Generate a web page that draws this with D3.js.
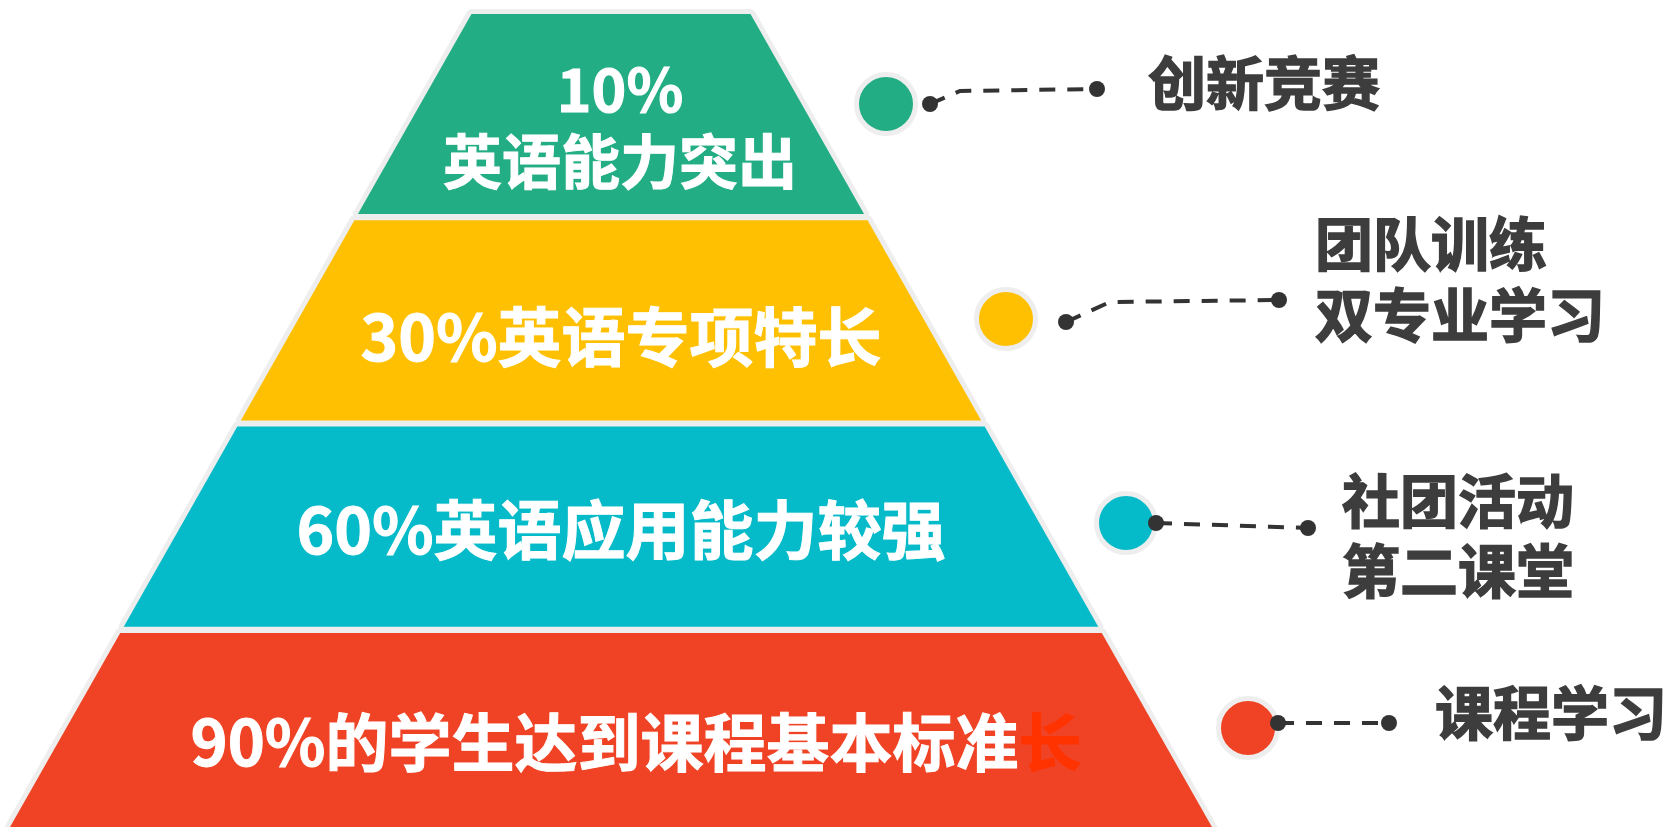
<!DOCTYPE html>
<html>
<head>
<meta charset="utf-8">
<script src="https://cdn.jsdelivr.net/npm/d3@7"></script>
<style>
  html, body { margin: 0; padding: 0; background: #ffffff; }
  svg { display: block; }
  text { font-family: "Noto Sans CJK SC", "Noto Sans", sans-serif; font-weight: 700; }
</style>
</head>
<body>
<div id="chart"></div>
<script>
// ---- data ----
const tierPercents = [10, 30, 60, 90];
const tierLabels = [
  ["10%", "英语能力突出"],
  ["30%英语专项特长"],
  ["60%英语应用能力较强"],
  ["90%的学生达到课程基本标准"]
];
const tierExtra = ["", "", "", "长"];
const tierColors = ["#22AD84", "#FEC000", "#05BAC9", "#F04325"];
const sideLabels = [
  ["创新竞赛"],
  ["团队训练", "双专业学习"],
  ["社团活动", "第二课堂"],
  ["课程学习"]
];

// ---- layout ----
const W = 1667, H = 827;
const svg = d3.select("#chart").append("svg").attr("width", W).attr("height", H);

const y = d3.scaleBand().domain(d3.range(tierPercents.length)).range([14, 833]).paddingInner(0.03).paddingOuter(0);
const halfW = d3.scaleLinear().domain([14, 628]).range([139.5, 488]);
const cx = 611;

const tiers = tierPercents.map((p, i) => ({ p, i, label: tierLabels[i], extra: tierExtra[i], color: tierColors[i], side: sideLabels[i] }));

// trapezoids
svg.append("g").selectAll("path").data(tiers).join("path")
  .attr("d", d => {
    const t = y(d.i), b = y(d.i) + y.bandwidth();
    const ht = halfW(t), hb = halfW(b);
    return d3.line()([[cx - ht, t], [cx + ht, t], [cx + hb, b], [cx - hb, b]]) + "Z";
  })
  .attr("fill", d => d.color)
  .attr("stroke", "#eeeeee")
  .attr("stroke-width", 10)
  .attr("stroke-linejoin", "round")
  .style("paint-order", "stroke");

// tier labels
const labelLayout = [
  { x: 620, ys: [86, 158], size: [59, 59] },
  { x: 621, ys: [333], size: [64] },
  { x: 621, ys: [526], size: [64] },
  { x: 636, ys: [738], size: [63] }
];
const lg = svg.append("g");
tiers.forEach((d, i) => {
  const L = labelLayout[i];
  d.label.forEach((line, j) => {
    const t = lg.append("text")
      .attr("x", L.x).attr("y", L.ys[j])
      .attr("text-anchor", "middle")
      .attr("dominant-baseline", "central")
      .attr("font-size", L.size[j])
      .attr("fill", "#ffffff")
      .attr("stroke", "#ffffff").attr("stroke-width", 1);
    t.append("tspan").text(line);
    if (j === d.label.length - 1 && d.extra) {
      t.append("tspan").attr("fill", "#FF3300").attr("stroke", "#FF3300").text(d.extra);
    }
  });
});

// circles + connectors
const sideLayout = [
  { c: [886, 104], path: [[930, 104], [960, 91], [1097, 89]], textX: 1148, ys: [80] },
  { c: [1006, 319], path: [[1066, 322], [1110, 302], [1279, 300]], textX: 1315, ys: [241, 312] },
  { c: [1126, 523], path: [[1156, 523], [1308, 528]], textX: 1342, ys: [498, 568] },
  { c: [1248, 728], path: [[1278, 723], [1389, 723]], textX: 1435, ys: [710] }
];
const sg = svg.append("g");
tiers.forEach((d, i) => {
  const S = sideLayout[i];
  sg.append("circle").attr("cx", S.c[0]).attr("cy", S.c[1]).attr("r", 29.5)
    .attr("fill", d.color).attr("stroke", "#eeeeee").attr("stroke-width", 5);
  sg.append("path").attr("d", d3.line()(S.path))
    .attr("fill", "none").attr("stroke", "#333333").attr("stroke-width", 4)
    .attr("stroke-dasharray", "16,12");
  const first = S.path[0], last = S.path[S.path.length - 1];
  [first, last].forEach(p => {
    sg.append("circle").attr("cx", p[0]).attr("cy", p[1]).attr("r", 8).attr("fill", "#333333");
  });
  d.side.forEach((line, j) => {
    sg.append("text").attr("x", S.textX).attr("y", S.ys[j])
      .attr("dominant-baseline", "central")
      .attr("font-size", 58).attr("fill", "#3d3d3d")
      .attr("stroke", "#3d3d3d").attr("stroke-width", 1.5)
      .text(line);
  });
});
</script>
</body>
</html>
